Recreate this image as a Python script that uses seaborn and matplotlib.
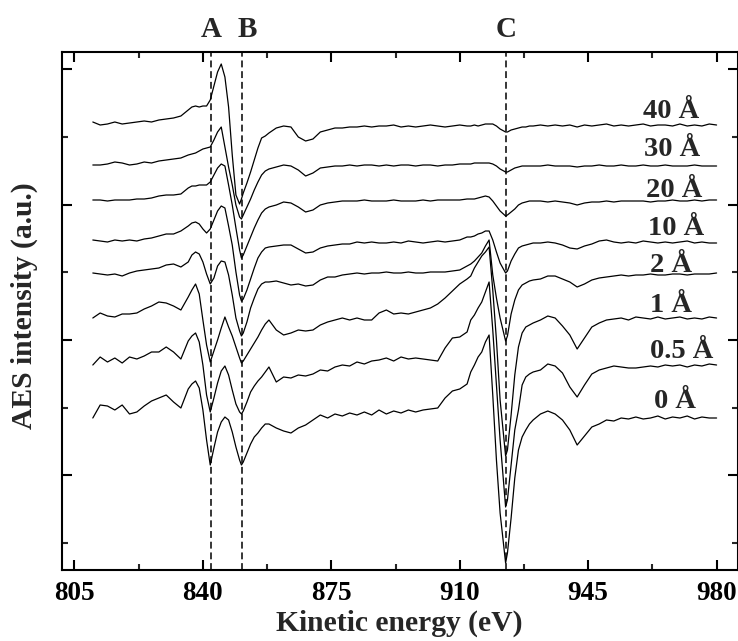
import matplotlib
matplotlib.use("Agg")
import matplotlib.pyplot as plt
import numpy as np
import pandas as pd
import seaborn as sns
from matplotlib.ticker import FixedLocator

# ---------------- data ----------------
energy = [810, 812, 814, 816, 818, 820, 822, 824, 826, 828, 830, 832, 834, 836,
          837, 838, 839, 840, 841, 842, 843, 844, 845, 846, 847, 848, 849, 850, 850.5,
          851, 852, 853, 854, 855, 856, 857,
          858, 860, 862, 864, 866, 868, 870, 872, 874, 876, 878, 880, 882, 884, 886,
          888, 890, 892, 894, 896, 898, 900, 902, 904, 906, 908, 910, 912,
          913, 914, 915, 916, 917, 918, 919, 920, 921, 922.5, 923, 924, 925, 926, 927,
          928, 929,
          930, 932, 934, 936, 938, 940, 942, 944, 946, 948, 950, 952, 954, 956, 958,
          960, 962, 964, 966, 968, 970, 972, 974, 976, 978, 980]

i_40 = [1, -2, -1, 1, -1, 0, 1, 2, 1, 3, 4, 5, 7, 13,
        16, 17, 16, 17, 17, 23, 37, 51, 59, 46, 16, -32, -72, -81, -76,
        -70, -60, -49, -37, -25, -15, -13,
        -10, -5, -3, -4, -14, -18, -16, -9, -7, -5, -5, -4, -4, -3, -4,
        -3, -3, -2, -4, -3, -4, -3, -2, -3, -4, -3, -2, -3,
        -3, -2, -3, -2, -1, -1, -1, -3, -6, -9, -9, -7, -6, -5, -4,
        -4, -3,
        -3, -2, -3, -2, -3, -2, -4, -2, -3, -2, -1, -3, -2, -3, -2,
        -1, -3, -2, -2, -3, -1, -3, -2, -3, -1, -2]

i_30 = [0, 0, 1, 3, 2, 0, 1, 3, 2, 4, 5, 6, 7, 10,
        11, 12, 14, 16, 17, 18, 25, 33, 38, 18, -2, -20, -40, -52, -54,
        -50, -42, -34, -25, -17, -10, -6,
        -4, -2, 0, -1, -5, -11, -8, -3, -2, -1, -1, 0, -1, 0, 0,
        -1, 0, -1, 0, 0, -1, 0, 0, -1, 0, 0, 1, 1,
        1, 2, 2, 2, 2, 2, 1, -1, -4, -7, -7, -5, -3, -2, -1,
        -1, -1,
        -1, -1, 0, -1, -1, -1, -2, -1, -1, 0, -1, -1, 0, -1, -1,
        0, -1, -1, 0, -1, -1, -1, 0, -1, -1, -1]

i_20 = [0, 0, -1, 0, 0, 0, 1, 1, 2, 4, 5, 5, 6, 12,
        14, 14, 15, 15, 15, 18, 25, 32, 36, 34, 15, -5, -28, -50, -58,
        -55, -46, -37, -28, -20, -13, -9,
        -7, -5, -2, -3, -7, -12, -10, -5, -3, -2, -1, -1, -1, 0, -1,
        -1, -1, 0, -1, -1, -1, 0, -1, 0, 0, 0, 0, 1,
        1, 1, 2, 3, 4, 3, -1, -6, -11, -16, -15, -12, -9, -5, -3,
        -2, -1,
        -1, -1, -2, -1, -2, -3, -5, -3, -2, -2, -1, -2, -1, -1, -1,
        -1, -2, -1, -1, 0, -1, -1, 0, -1, 0, 0]

i_10 = [2, 1, 0, 2, 1, 2, 1, 3, 4, 6, 8, 8, 11, 16,
        19, 20, 18, 13, 9, 13, 22, 31, 36, 34, 16, -3, -30, -53, -59,
        -57, -48, -37, -26, -16, -10, -6,
        -5, -4, -3, -3, -7, -11, -10, -6, -4, -3, -2, -2, 0, -1, 0,
        -1, -1, 0, -1, 1, 0, -1, 0, 1, 0, 1, 2, 5,
        5, 6, 8, 9, 11, 11, 2, -10, -21, -31, -29, -19, -12, -6, -4,
        -3, -2,
        -1, -1, 0, -1, -3, -6, -7, -4, -2, 1, 2, 0, -1, 0, -1,
        1, 0, -1, 0, -1, 0, 1, -1, 0, -1, -1]

i_2 = [0, -1, -2, -1, -3, 0, 2, 3, 4, 5, 8, 9, 6, 11,
       18, 21, 19, 11, -1, -11, -5, 7, 12, 11, -2, -22, -45, -58, -63,
       -60, -49, -35, -25, -16, -11, -9,
       -9, -8, -10, -12, -11, -13, -12, -7, -4, -4, -2, -1, 0, -1, 0,
       0, 1, 0, 0, 1, 0, 0, 1, 1, 1, 2, 3, 7,
       9, 12, 16, 20, 27, 33, -2, -25, -45, -68, -63, -41, -27, -17, -12,
       -10, -8,
       -7, -6, -3, -3, -6, -9, -14, -11, -7, -5, -4, -3, -2, -3, -2,
       -2, -1, -2, -2, -1, -1, -2, -1, -1, -1, 0]

i_1 = [0, 5, 2, 1, 4, 4, 5, 9, 12, 16, 15, 12, 8, 21,
       28, 34, 24, -2, -27, -44, -33, -22, -10, 1, -9, -18, -29, -40, -45,
       -43, -37, -31, -25, -19, -12, -6,
       -2, -12, -17, -15, -12, -13, -12, -7, -4, -2, 0, -2, 0, -2, -2,
       5, 8, 4, 5, 4, 6, 8, 10, 14, 20, 27, 34, 39,
       42, 50, 56, 62, 66, 71, 28, -22, -82, -138, -132, -97, -57, -29, -15,
       -9, -7,
       -5, -2, 2, 0, -8, -17, -31, -20, -9, -5, -2, -1, 0, -2, 1,
       0, -1, 1, -1, 0, 1, -1, 0, -1, 1, 0]

i_05 = [0, 8, 3, 7, 2, 8, 6, 9, 13, 13, 18, 13, 6, 24,
        29, 32, 23, 0, -30, -47, -33, -18, -6, -1, -10, -25, -39, -47, -49,
        -46, -37, -27, -21, -16, -12, -7,
        -2, -17, -12, -13, -10, -11, -9, -5, -6, -2, 0, -1, 3, 1, 4,
        5, 7, 4, 8, 6, 7, 6, 5, 4, 17, 27, 28, 33,
        45, 50, 57, 63, 73, 83, 35, -20, -75, -142, -135, -100, -65, -45, -20,
        -12, -9,
        -7, -5, 1, -1, -8, -22, -32, -20, -9, -5, -3, -1, -2, -3, -3,
        -2, -1, -2, 0, -1, 0, -2, 0, -1, 1, 0]

i_0 = [0, 13, 12, 8, 13, 4, 6, 12, 17, 20, 23, 16, 10, 29,
       34, 37, 30, 8, -22, -47, -30, -14, -4, 1, -2, -14, -29, -42, -47,
       -44, -35, -26, -19, -15, -10, -6,
       -6, -10, -13, -15, -10, -7, -2, 3, 0, 4, 2, 5, 3, 6, 3,
       8, 4, 7, 5, 8, 6, 8, 9, 10, 20, 27, 29, 34,
       46, 53, 61, 66, 76, 83, 23, -42, -95, -145, -135, -100, -60, -32, -19,
       -12, -6,
       -2, 4, 7, 4, -2, -12, -27, -18, -9, -6, -2, -3, 0, -1, 1,
       -1, 0, 2, -1, 1, 0, 2, -1, 1, 0, 0]

thickness = ["40 Å", "30 Å", "20 Å", "10 Å", "2 Å", "1 Å", "0.5 Å", "0 Å"]
spectra = [i_40, i_30, i_20, i_10, i_2, i_1, i_05, i_0]
peak_names = ["A", "B", "C"]
peak_energy = [842.2, 850.6, 922.6]
x_tick_values = [805, 840, 875, 910, 945, 980]

# ---------------- layout / style ----------------
stack_offset = [420, 378, 343, 301, 270, 225, 178, 125]
label_x = [967.6, 968.0, 968.4, 969.0, 967.6, 967.6, 970.5, 968.6]
label_y = [425, 387, 346, 308, 271, 231, 185, 135]
peak_label_x = [842.4, 852.2, 922.6]
y_step = 67.7

rows = []
for name, vals, off in zip(thickness, spectra, stack_offset):
    for e, v in zip(energy, vals):
        rows.append((name, e, v + off))
df = pd.DataFrame(rows, columns=["thickness", "energy", "intensity"])

sns.set_theme(style="ticks")
plt.rcParams["font.family"] = ["Liberation Serif", "DejaVu Serif"]
plt.rcParams["font.weight"] = "bold"

W, H = 738, 641
fig = plt.figure(figsize=(W / 100, H / 100), dpi=100)
ax = fig.add_axes([62 / W, 1 - 570 / H, (737.5 - 62) / W, (570 - 52) / H])

sns.lineplot(data=df, x="energy", y="intensity", units="thickness",
             estimator=None, color="black", linewidth=0.9, ax=ax, legend=False)

for e in peak_energy:
    ax.axvline(e, color="black", linewidth=1.1, linestyle=(0, (4.5, 2.5)), zorder=1)

for name, xl in zip(peak_names, peak_label_x):
    ax.text(xl, 1.028, name, transform=ax.get_xaxis_transform(), ha="center",
            va="baseline", fontsize=21, fontweight="bold")

for name, xl, yl in zip(thickness, label_x, label_y):
    ax.text(xl, yl, name, ha="center", va="baseline", fontsize=20.5, fontweight="bold")

ax.set_xlim(801.6, 985.7)
ax.set_ylim(-27, 491)

ax.xaxis.set_major_locator(FixedLocator(x_tick_values))
ax.xaxis.set_minor_locator(FixedLocator([v + 17.5 for v in x_tick_values[:-1]]))
ax.set_xticklabels([str(v) for v in x_tick_values])
ax.yaxis.set_major_locator(FixedLocator([y_step * k for k in (1, 3, 5, 7)]))
ax.yaxis.set_minor_locator(FixedLocator([y_step * k for k in (0, 2, 4, 6)]))

ax.tick_params(which="major", direction="in", length=7.5, width=1.5,
               top=True, right=True, labelleft=False, labelsize=19.5, pad=8, colors="black")
ax.tick_params(which="minor", direction="in", length=4, width=1.5,
               top=True, right=True)
for lab in ax.get_xticklabels():
    lab.set_fontweight("bold")

for s in ax.spines.values():
    s.set_linewidth(1.5)
    s.set_color("black")

ax.set_xlabel("Kinetic energy (eV)", fontsize=21.3, fontweight="bold")
ax.set_ylabel("AES intensity (a.u.)", fontsize=21.3, fontweight="bold")
ax.xaxis.set_label_coords(0.5, -0.077)
ax.yaxis.set_label_coords(-0.036, 0.51)

fig.savefig("out.png", dpi=100)
